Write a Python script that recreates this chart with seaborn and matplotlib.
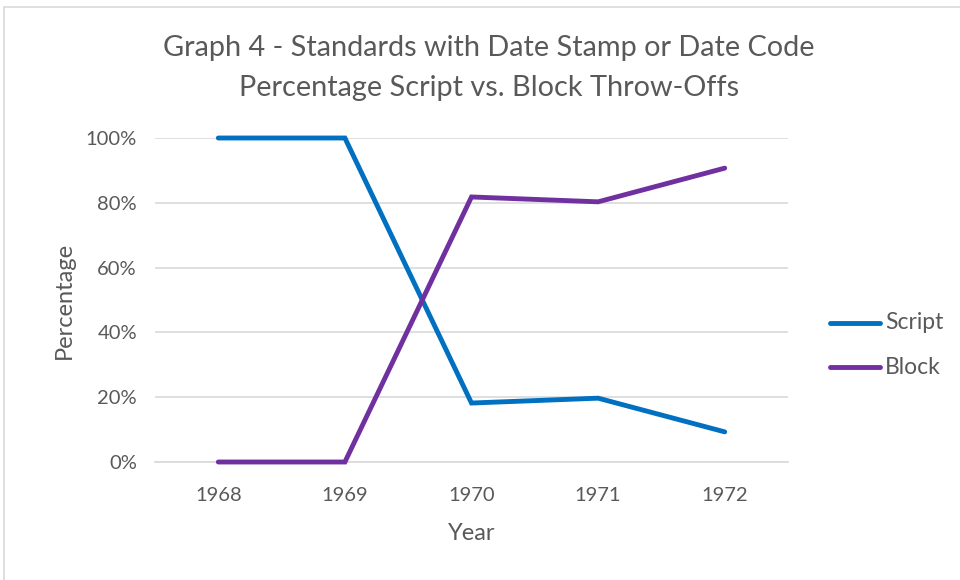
import matplotlib
matplotlib.use("Agg")
import matplotlib.pyplot as plt
import matplotlib.ticker as mticker
from matplotlib.patches import Rectangle
import seaborn as sns
import pandas as pd

years = [1968, 1969, 1970, 1971, 1972]
script_pct = [100.0, 100.0, 18.2, 19.7, 9.3]
block_pct = [0.0, 0.0, 81.8, 80.3, 90.7]
series_names = ["Script", "Block"]
series_colors = ["#0070C0", "#7030A0"]

df = pd.DataFrame({
    "Year": years * 2,
    "Percentage": script_pct + block_pct,
    "Series": [series_names[0]] * len(years) + [series_names[1]] * len(years),
})

sns.set_theme(style="white")
plt.rcParams["font.family"] = ["Lato", "DejaVu Sans"]

fig = plt.figure(figsize=(9.6, 5.8), dpi=100)
ax = fig.add_axes([155 / 960, 1 - 462 / 580, (788 - 155) / 960, (462 - 138) / 580])

sns.lineplot(data=df, x="Year", y="Percentage", hue="Series",
             palette=dict(zip(series_names, series_colors)),
             linewidth=3.5, ax=ax, legend=False, errorbar=None,
             solid_capstyle="round", solid_joinstyle="miter")

ax.set_xlim(1967.5, 1972.5)
ax.set_ylim(0, 100)
ax.set_xticks(years)
ax.set_xticklabels([str(y) for y in years])
ax.set_yticks([0, 20, 40, 60, 80, 100])
ax.yaxis.set_major_formatter(mticker.FuncFormatter(lambda v, p: f"{int(v)}%"))
ax.yaxis.grid(True, color="#D9D9D9", linewidth=1.2)
ax.xaxis.grid(False)
ax.set_axisbelow(True)
for side in ["top", "right", "left"]:
    ax.spines[side].set_visible(False)
ax.spines["bottom"].set_color("#D9D9D9")
ax.spines["bottom"].set_linewidth(1.2)
ax.spines["bottom"].set_zorder(1)
ax.tick_params(axis="both", length=0, labelsize=14.5, labelcolor="#595959")
ax.tick_params(axis="y", pad=13)
ax.tick_params(axis="x", pad=18)
for line in ax.lines:
    line.set_clip_on(False)
    line.set_zorder(3)

ax.set_xlabel("Year", fontsize=17, color="#595959", labelpad=14)
ax.set_ylabel("Percentage", fontsize=17, color="#595959", labelpad=8)

fig.text(489 / 960, 1 - 48 / 580, "Graph 4 - Standards with Date Stamp or Date Code",
         ha="center", va="center", fontsize=20.8, color="#595959")
fig.text(489 / 960, 1 - 88 / 580, "Percentage Script vs. Block Throw-Offs",
         ha="center", va="center", fontsize=20.8, color="#595959")

# legend drawn manually to the right
for i, (name, col) in enumerate(zip(series_names, series_colors)):
    yy = 1 - (323 + 44 * i) / 580
    fig.add_artist(plt.Line2D([830 / 960, 880 / 960], [yy, yy], color=col,
                              linewidth=3.5, solid_capstyle="round"))
    fig.text(885 / 960, yy, name, ha="left", va="center", fontsize=16.5, color="#595959")

fig.add_artist(Rectangle((4 / 960, -0.05), 1.0, 1 - 7 / 580 + 0.05, transform=fig.transFigure,
                         fill=False, edgecolor="#D9D9D9", linewidth=1.2))

fig.savefig("out.png", dpi=100, facecolor="white")
